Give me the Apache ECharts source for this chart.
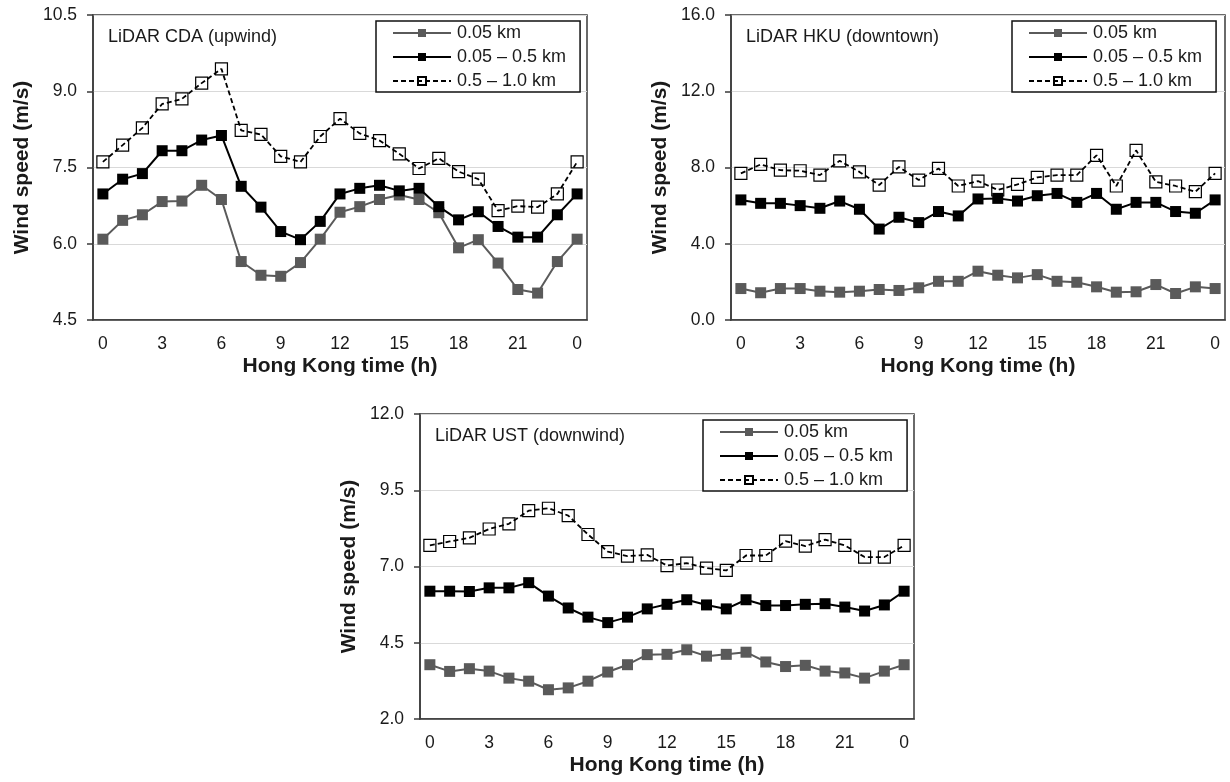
<!DOCTYPE html>
<html>
<head>
<meta charset="utf-8">
<script src="https://cdn.jsdelivr.net/npm/echarts@6/dist/echarts.min.js"></script>
<style>
  html, body { margin: 0; padding: 0; background: #fff; }
  #chart { width: 1230px; height: 782px; }
</style>
</head>
<body>
<div id="chart"></div>
<script>
// Hour categories (24 shown as "0")
const hours = ['0','1','2','3','4','5','6','7','8','9','10','11','12','13','14','15','16','17','18','19','20','21','22','23','0'];
const seriesNames = ['0.05 km', '0.05 \u2013 0.5 km', '0.5 \u2013 1.0 km'];
const panelTitles = ['LiDAR CDA (upwind)', 'LiDAR HKU (downtown)', 'LiDAR UST (downwind)'];
const xAxisTitle = 'Hong Kong time (h)';
const yAxisTitle = 'Wind speed (m/s)';

// LiDAR CDA (upwind)
const cdaLow  = [6.09,6.46,6.57,6.83,6.84,7.15,6.87,5.65,5.38,5.36,5.63,6.09,6.62,6.73,6.87,6.96,6.87,6.61,5.92,6.08,5.62,5.10,5.03,5.65,6.09];
const cdaMid  = [6.98,7.27,7.38,7.83,7.83,8.04,8.13,7.13,6.72,6.24,6.08,6.44,6.98,7.09,7.15,7.04,7.09,6.73,6.47,6.63,6.34,6.13,6.13,6.57,6.98];
const cdaHigh = [7.61,7.94,8.28,8.75,8.85,9.16,9.44,8.23,8.15,7.72,7.61,8.11,8.46,8.17,8.03,7.77,7.48,7.68,7.42,7.27,6.65,6.74,6.72,6.98,7.61];

// LiDAR HKU (downtown)
const hkuLow  = [1.65,1.43,1.65,1.65,1.51,1.46,1.51,1.60,1.55,1.69,2.03,2.03,2.56,2.35,2.21,2.38,2.03,1.98,1.74,1.46,1.48,1.86,1.39,1.74,1.65];
const hkuMid  = [6.30,6.12,6.12,6.00,5.86,6.24,5.81,4.77,5.39,5.11,5.69,5.46,6.35,6.38,6.24,6.52,6.64,6.17,6.64,5.81,6.17,6.17,5.69,5.60,6.30];
const hkuHigh = [7.69,8.16,7.86,7.83,7.60,8.35,7.77,7.08,8.03,7.34,7.95,7.03,7.29,6.82,7.11,7.48,7.60,7.60,8.64,7.03,8.90,7.25,7.03,6.73,7.69];

// LiDAR UST (downwind)
const ustLow  = [3.78,3.56,3.65,3.57,3.34,3.24,2.96,3.02,3.24,3.54,3.78,4.11,4.12,4.27,4.06,4.12,4.19,3.87,3.72,3.76,3.57,3.51,3.34,3.57,3.78];
const ustMid  = [6.19,6.19,6.18,6.30,6.30,6.47,6.03,5.64,5.34,5.16,5.34,5.61,5.76,5.91,5.74,5.61,5.91,5.72,5.72,5.76,5.78,5.67,5.54,5.74,6.19];
const ustHigh = [7.69,7.82,7.94,8.23,8.40,8.83,8.91,8.67,8.05,7.49,7.34,7.38,7.03,7.11,6.95,6.87,7.36,7.36,7.83,7.67,7.88,7.69,7.31,7.31,7.69];

// y-axis ranges per panel
const yMins = [4.5, 0, 2];
const yMaxs = [10.5, 16, 12];
const yIntervals = [1.5, 4, 2.5];

const panelData = [
  [cdaLow, cdaMid, cdaHigh],
  [hkuLow, hkuMid, hkuHigh],
  [ustLow, ustMid, ustHigh]
];

// layout (pixels)
const grids = [
  { left: 93,  top: 15,  width: 494, height: 305 },
  { left: 731, top: 15,  width: 494, height: 305 },
  { left: 420, top: 414, width: 494, height: 305 }
];
const legendLefts = [376, 1012, 703];

const FONT = '"Liberation Sans", Arial, sans-serif';
const TXT = '#1a1a1a';
const AX = '#3a3a3a';

const option = {
  backgroundColor: '#fff',
  animation: false,
  textStyle: { fontFamily: FONT },
  title: grids.map((g, i) => ({
    text: panelTitles[i],
    left: g.left + 15,
    top: g.top + 12,
    padding: 0,
    textStyle: { fontFamily: FONT, fontSize: 18, fontWeight: 'normal', color: TXT, lineHeight: 20 }
  })),
  grid: grids.map(g => Object.assign({ show: true, borderColor: AX, borderWidth: 1.5, backgroundColor: 'transparent', containLabel: false }, g)),
  legend: grids.map((g, i) => ({
    orient: 'vertical',
    left: legendLefts[i],
    top: g.top + 6,
    padding: [2, 14, 1, 16],
    itemGap: 4,
    itemWidth: 58,
    itemHeight: 10,
    borderColor: '#111',
    borderWidth: 1.5,
    backgroundColor: '#fff',
    selectedMode: false,
    data: seriesNames,
    textStyle: { fontFamily: FONT, fontSize: 18, color: TXT, lineHeight: 20, padding: [0, 0, 0, 1] }
  })),
  xAxis: grids.map((g, i) => ({
    type: 'category',
    gridIndex: i,
    data: hours,
    boundaryGap: true,
    name: xAxisTitle,
    nameLocation: 'middle',
    nameGap: 36,
    nameTextStyle: { fontFamily: FONT, fontSize: 21, fontWeight: 'bold', color: TXT },
    axisLine: { show: true, onZero: false, lineStyle: { color: AX, width: 1.5 } },
    axisTick: { show: false },
    axisLabel: { interval: 2, margin: 15, fontFamily: FONT, fontSize: 17.5, color: TXT },
    splitLine: { show: false }
  })),
  yAxis: grids.map((g, i) => ({
    type: 'value',
    gridIndex: i,
    min: yMins[i],
    max: yMaxs[i],
    interval: yIntervals[i],
    name: yAxisTitle,
    nameLocation: 'middle',
    nameGap: 60,
    nameTextStyle: { fontFamily: FONT, fontSize: 21, fontWeight: 'bold', color: TXT },
    axisLine: { show: true, lineStyle: { color: AX, width: 1.5 } },
    axisTick: { show: true, inside: false, length: 6, lineStyle: { color: AX, width: 1.5 } },
    axisLabel: { margin: 16, fontFamily: FONT, fontSize: 17.5, color: TXT, formatter: v => v.toFixed(1) },
    splitLine: { show: true, lineStyle: { color: '#d9d9d9', width: 1.2 } }
  })),
  series: []
};

panelData.forEach((sets, i) => {
  option.series.push({
    name: seriesNames[0], type: 'line', xAxisIndex: i, yAxisIndex: i,
    data: sets[0], symbol: 'rect', symbolSize: 11,
    lineStyle: { color: '#5a5a5a', width: 2 },
    itemStyle: { color: '#5a5a5a' }, z: 3
  });
  option.series.push({
    name: seriesNames[1], type: 'line', xAxisIndex: i, yAxisIndex: i,
    data: sets[1], symbol: 'rect', symbolSize: 11,
    lineStyle: { color: '#000', width: 2 },
    itemStyle: { color: '#000' }, z: 4
  });
  option.series.push({
    name: seriesNames[2], type: 'line', xAxisIndex: i, yAxisIndex: i,
    data: sets[2], symbol: 'rect', symbolSize: 12,
    lineStyle: { color: '#000', width: 1.8, type: [5, 3] },
    itemStyle: { color: 'rgba(255,255,255,0)', borderColor: '#000', borderWidth: 1.2 }, z: 5
  });
});

const chart = echarts.init(document.getElementById('chart'), null, { renderer: 'canvas', width: 1230, height: 782 });
chart.setOption(option);
</script>
</body>
</html>
